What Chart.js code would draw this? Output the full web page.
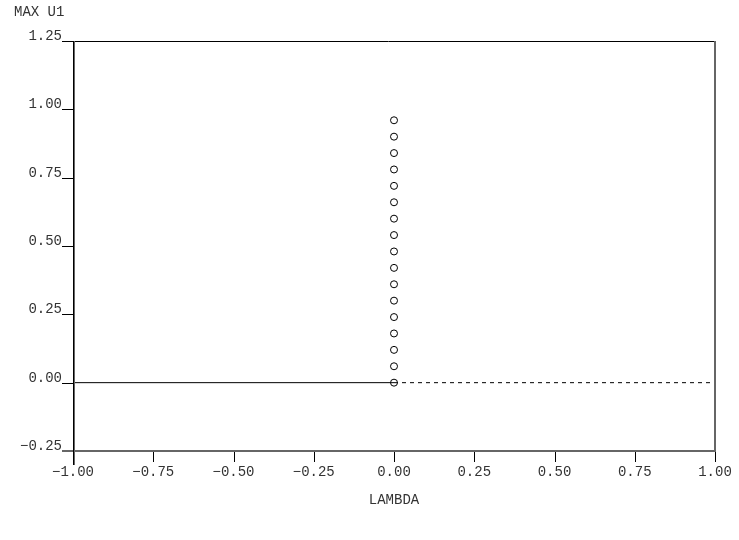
<!DOCTYPE html>
<html>
<head>
<meta charset="utf-8">
<script src="https://cdn.jsdelivr.net/npm/chart.js@4"></script>
<style>
  html, body { margin: 0; padding: 0; background: #fff; }
  #wrap { width: 739px; height: 540px; }
</style>
</head>
<body>
<div id="wrap"><canvas id="plot"></canvas></div>
<script>
// values
const lambda = [0, 0, 0, 0, 0, 0, 0, 0, 0, 0, 0, 0, 0, 0, 0, 0, 0];
const maxU1 = [0, 0.06, 0.12, 0.18, 0.24, 0.30, 0.36, 0.42, 0.48, 0.54, 0.60, 0.66, 0.72, 0.78, 0.84, 0.90, 0.96];
const solidX = [-1, 0];
const dashedX = [0, 1];
const baseY = [0, 0];
const xTicks = [-1, -0.75, -0.5, -0.25, 0, 0.25, 0.5, 0.75, 1];
const yTicks = [-0.25, 0, 0.25, 0.5, 0.75, 1, 1.25];

const FONT = '14px "Liberation Mono", "DejaVu Sans Mono", monospace';
const fmt = v => (v < 0 ? '\u2212' : '') + Math.abs(v).toFixed(2);

const pts = (xs, ys) => xs.map((x, i) => ({ x: x, y: ys[i] }));

// axes, ticks and labels drawn by hand in the old plotter style
const frame = {
  id: 'frame',
  afterDatasetsDraw(chart) {
    const c = chart.ctx;
    const a = chart.chartArea;
    const xs = chart.scales.x, ys = chart.scales.y;
    c.save();
    c.lineWidth = 1;
    c.strokeStyle = '#000';
    // top line, runs out to the 1.25 tick
    c.beginPath(); c.moveTo(a.left - 11, a.top + 0.5); c.lineTo(a.right, a.top + 0.5); c.stroke();
    // y ticks
    yTicks.forEach(v => {
      const y = Math.round(ys.getPixelForValue(v)) + 0.5;
      c.beginPath(); c.moveTo(a.left - 11, y); c.lineTo(a.left, y); c.stroke();
    });
    // x ticks
    xTicks.forEach(v => {
      const x = Math.round(xs.getPixelForValue(v)) + 0.5;
      c.beginPath(); c.moveTo(x, a.bottom); c.lineTo(x, a.bottom + 11); c.stroke();
    });
    // heavier gray frame lines
    c.strokeStyle = '#666';
    c.lineWidth = 2;
    c.beginPath(); c.moveTo(a.left + 1, a.top); c.lineTo(a.left + 1, a.bottom + 14); c.stroke();
    c.beginPath(); c.moveTo(a.right, a.top); c.lineTo(a.right, a.bottom + 1); c.stroke();
    c.beginPath(); c.moveTo(a.left - 11, a.bottom); c.lineTo(a.right + 1, a.bottom); c.stroke();
    c.strokeStyle = '#000';
    c.lineWidth = 1;
    c.beginPath(); c.moveTo(a.left + 0.5, a.top); c.lineTo(a.left + 0.5, a.bottom + 14); c.stroke();

    c.fillStyle = '#333';
    c.font = FONT;
    c.textAlign = 'right';
    c.textBaseline = 'alphabetic';
    yTicks.forEach(v => {
      c.fillText(fmt(v), a.left - 11, Math.round(ys.getPixelForValue(v)) - 1);
    });
    c.textAlign = 'center';
    c.textBaseline = 'middle';
    xTicks.forEach(v => {
      c.fillText(fmt(v), xs.getPixelForValue(v), a.bottom + 21);
    });
    c.fillText('LAMBDA', (a.left + a.right) / 2, 500);
    c.textAlign = 'left';
    c.fillText('MAX U1', 14, 12);
    c.restore();
  }
};

new Chart(document.getElementById('plot'), {
  type: 'scatter',
  data: {
    datasets: [
      {
        data: pts(solidX, baseY),
        showLine: true,
        borderColor: '#000',
        borderWidth: 1,
        pointRadius: 0
      },
      {
        data: pts(dashedX, baseY),
        showLine: true,
        borderColor: '#000',
        borderWidth: 1,
        borderDash: [4, 4],
        pointRadius: 0
      },
      {
        data: pts(lambda, maxU1),
        pointStyle: 'circle',
        pointRadius: 3.5,
        pointBorderWidth: 1,
        borderColor: '#000',
        backgroundColor: '#fff'
      }
    ]
  },
  options: {
    responsive: true,
    maintainAspectRatio: false,
    animation: false,
    layout: { padding: { left: 73, top: 41, right: 24, bottom: 89 } },
    scales: {
      x: { type: 'linear', min: -1, max: 1, display: false },
      y: { type: 'linear', min: -0.25, max: 1.25, display: false }
    },
    plugins: {
      legend: { display: false },
      tooltip: { enabled: false }
    }
  },
  plugins: [frame]
});
</script>
</body>
</html>
